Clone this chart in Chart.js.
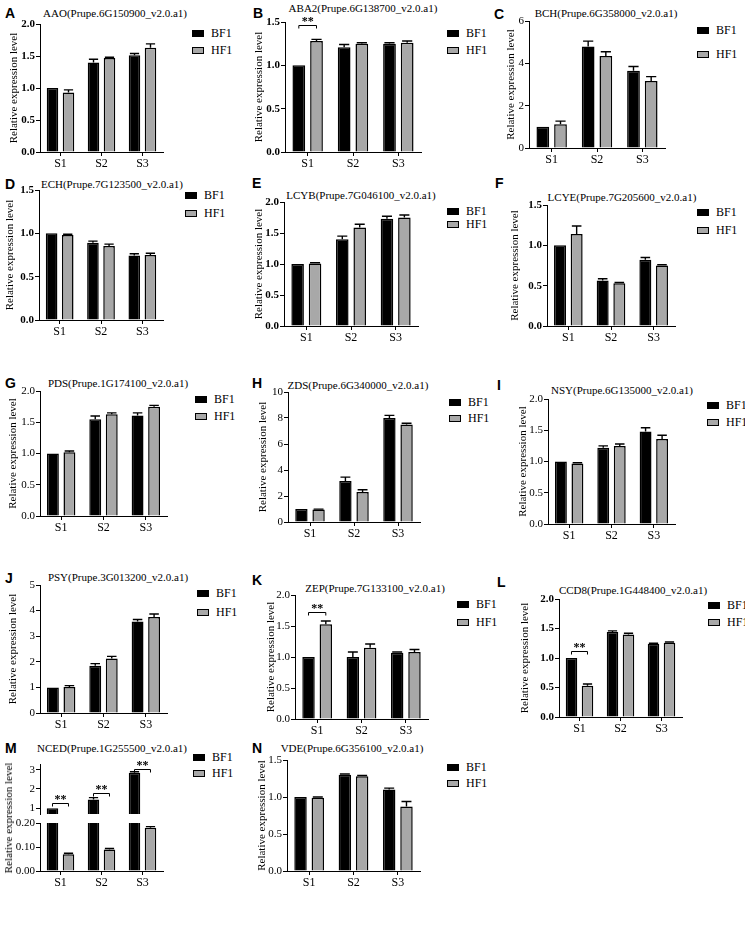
<!DOCTYPE html>
<html><head><meta charset="utf-8">
<script src="https://cdn.jsdelivr.net/npm/chart.js@4.4.1/dist/chart.umd.min.js"></script>
<style>
body{margin:0;background:#fff;width:745px;height:932px;position:relative;overflow:hidden;font-family:"Liberation Serif","Times New Roman",serif;color:#000;}
.abs{position:absolute;white-space:nowrap;}
.letter{font-family:"Liberation Sans",Arial,sans-serif;font-weight:bold;font-size:14px;line-height:14px;}
.ptitle{font-size:11px;line-height:12px;transform:translate(-50%,-50%);}
.leg{font-size:12px;line-height:12px;}
.box{position:absolute;left:0;top:3px;width:12px;height:7px;border:1px solid #000;box-sizing:border-box;}
</style></head><body>
<script>
// ---------- data ----------
const categories = ['S1', 'S2', 'S3'];
const seriesNames = ['BF1', 'HF1'];

const AAO_BF1 = [1.00, 1.40, 1.51], AAO_BF1_err = [0, 0.05, 0.03];
const AAO_HF1 = [0.93, 1.47, 1.63], AAO_HF1_err = [0.04, 0.01, 0.06];
const ABA2_BF1 = [1.00, 1.21, 1.25], ABA2_BF1_err = [0, 0.03, 0.01];
const ABA2_HF1 = [1.28, 1.25, 1.26], ABA2_HF1_err = [0.02, 0.01, 0.02];
const BCH_BF1 = [1.00, 4.80, 3.65], BCH_BF1_err = [0, 0.25, 0.2];
const BCH_HF1 = [1.12, 4.35, 3.17], BCH_HF1_err = [0.15, 0.2, 0.2];
const ECH_BF1 = [1.00, 0.89, 0.745], ECH_BF1_err = [0, 0.02, 0.02];
const ECH_HF1 = [0.98, 0.855, 0.75], ECH_HF1_err = [0.01, 0.02, 0.02];
const LCYB_BF1 = [1.00, 1.40, 1.73], LCYB_BF1_err = [0, 0.05, 0.04];
const LCYB_HF1 = [1.01, 1.59, 1.75], LCYB_HF1_err = [0.01, 0.05, 0.04];
const LCYE_BF1 = [1.00, 0.565, 0.82], LCYE_BF1_err = [0, 0.02, 0.03];
const LCYE_HF1 = [1.14, 0.53, 0.75], LCYE_HF1_err = [0.1, 0.01, 0.01];
const PDS_BF1 = [1.00, 1.55, 1.61], PDS_BF1_err = [0, 0.05, 0.04];
const PDS_HF1 = [1.02, 1.63, 1.75], PDS_HF1_err = [0.02, 0.02, 0.02];
const ZDS_BF1 = [1.00, 3.15, 8.00], ZDS_BF1_err = [0, 0.3, 0.2];
const ZDS_HF1 = [0.97, 2.30, 7.50], ZDS_HF1_err = [0.02, 0.18, 0.1];
const NSY_BF1 = [1.00, 1.22, 1.48], NSY_BF1_err = [0, 0.03, 0.06];
const NSY_HF1 = [0.97, 1.25, 1.36], NSY_HF1_err = [0.01, 0.03, 0.06];
const PSY_BF1 = [1.00, 1.85, 3.57], PSY_BF1_err = [0, 0.08, 0.08];
const PSY_HF1 = [1.02, 2.13, 3.75], PSY_HF1_err = [0.05, 0.08, 0.12];
const ZEP_BF1 = [1.00, 1.00, 1.07], ZEP_BF1_err = [0, 0.08, 0.01];
const ZEP_HF1 = [1.53, 1.15, 1.08], ZEP_HF1_err = [0.05, 0.06, 0.04];
const CCD8_BF1 = [1.00, 1.44, 1.24], CCD8_BF1_err = [0, 0.02, 0.01];
const CCD8_HF1 = [0.53, 1.40, 1.26], CCD8_HF1_err = [0.03, 0.02, 0.01];
const NCED_BF1 = [1.00, 1.45, 2.85], NCED_BF1_err = [0, 0.1, 0.05];
const NCED_HF1 = [0.07, 0.09, 0.18], NCED_HF1_err = [0.004, 0.004, 0.005];
const VDE_BF1 = [1.00, 1.30, 1.10], VDE_BF1_err = [0, 0.01, 0.02];
const VDE_HF1 = [0.99, 1.28, 0.87], VDE_HF1_err = [0.01, 0.01, 0.07];

// y-axis tick settings per panel
const yMaxes = {A:2, B:1.5, C:6, D:1.5, E:2, F:1.5, G:2, H:10, I:2, J:5, K:2, L:2, N:1.5};
const ySteps = {A:0.5, B:0.5, C:2, D:0.5, E:0.5, F:0.5, G:0.5, H:2, I:0.5, J:1, K:0.5, L:0.5, N:0.5};
const NCED_topTicks = [1, 2, 3];
const NCED_bottomTicks = [0, 0.05, 0.10, 0.15, 0.20];

// ---------- layout ----------
const panels = [
  {k:'A', title:'AAO(Prupe.6G150900_v2.0.a1)', bf:AAO_BF1, bfe:AAO_BF1_err, hf:AAO_HF1, hfe:AAO_HF1_err,
   ax:40, yTop:24, yBot:152, xEnd:163, tx:14, bold:true, L:[5,6], T:[115,13], G:[192,33,50], sig:[]},
  {k:'B', title:'ABA2(Prupe.6G138700_v2.0.a1)', bf:ABA2_BF1, bfe:ABA2_BF1_err, hf:ABA2_HF1, hfe:ABA2_HF1_err,
   ax:285, yTop:22, yBot:152, xEnd:421, tx:259, bold:true, L:[253,6], T:[363,8], G:[447,33,50], sig:[[0,1.46]]},
  {k:'C', title:'BCH(Prupe.6G358000_v2.0.a1)', bf:BCH_BF1, bfe:BCH_BF1_err, hf:BCH_HF1, hfe:BCH_HF1_err,
   ax:529, yTop:21, yBot:148, xEnd:665, tx:512, bold:false, L:[494,7], T:[606,13], G:[697,30,54], sig:[]},
  {k:'D', title:'ECH(Prupe.7G123500_v2.0.a1)', bf:ECH_BF1, bfe:ECH_BF1_err, hf:ECH_HF1, hfe:ECH_HF1_err,
   ax:39, yTop:190, yBot:320, xEnd:163, tx:10, bold:true, L:[5,177], T:[112,184], G:[185,195,213], sig:[]},
  {k:'E', title:'LCYB(Prupe.7G046100_v2.0.a1)', bf:LCYB_BF1, bfe:LCYB_BF1_err, hf:LCYB_HF1, hfe:LCYB_HF1_err,
   ax:284, yTop:202, yBot:326, xEnd:418, tx:259, bold:true, L:[252,176], T:[361,195], G:[447,211,224], sig:[]},
  {k:'F', title:'LCYE(Prupe.7G205600_v2.0.a1)', bf:LCYE_BF1, bfe:LCYE_BF1_err, hf:LCYE_HF1, hfe:LCYE_HF1_err,
   ax:547, yTop:205, yBot:326, xEnd:675, tx:515, bold:true, L:[495,176], T:[622,197], G:[697,212,230], sig:[]},
  {k:'G', title:'PDS(Prupe.1G174100_v2.0.a1)', bf:PDS_BF1, bfe:PDS_BF1_err, hf:PDS_HF1, hfe:PDS_HF1_err,
   ax:40, yTop:391, yBot:516, xEnd:167, tx:13, bold:false, L:[5,376], T:[118,383], G:[195,399,416], sig:[]},
  {k:'H', title:'ZDS(Prupe.6G340000_v2.0.a1)', bf:ZDS_BF1, bfe:ZDS_BF1_err, hf:ZDS_HF1, hfe:ZDS_HF1_err,
   ax:288, yTop:392, yBot:522, xEnd:420, tx:263, bold:false, L:[252,376], T:[358,385], G:[449,402,418], sig:[]},
  {k:'I', title:'NSY(Prupe.6G135000_v2.0.a1)', bf:NSY_BF1, bfe:NSY_BF1_err, hf:NSY_HF1, hfe:NSY_HF1_err,
   ax:548, yTop:399, yBot:524, xEnd:675, tx:523, bold:false, L:[497,378], T:[622,390], G:[707,405,422], sig:[]},
  {k:'J', title:'PSY(Prupe.3G013200_v2.0.a1)', bf:PSY_BF1, bfe:PSY_BF1_err, hf:PSY_HF1, hfe:PSY_HF1_err,
   ax:40, yTop:585, yBot:713, xEnd:167, tx:13, bold:false, L:[5,571], T:[118,577], G:[197,593,612], sig:[]},
  {k:'K', title:'ZEP(Prupe.7G133100_v2.0.a1)', bf:ZEP_BF1, bfe:ZEP_BF1_err, hf:ZEP_HF1, hfe:ZEP_HF1_err,
   ax:295, yTop:595, yBot:719, xEnd:428, tx:271, bold:false, L:[252,573], T:[375,588], G:[457,604,622], sig:[[0,1.73]]},
  {k:'L', title:'CCD8(Prupe.1G448400_v2.0.a1)', bf:CCD8_BF1, bfe:CCD8_BF1_err, hf:CCD8_HF1, hfe:CCD8_HF1_err,
   ax:559, yTop:599, yBot:717, xEnd:682, tx:525, bold:true, L:[497,575], T:[633,590], G:[708,605,622], sig:[[0,1.12]]},
  {k:'N', title:'VDE(Prupe.6G356100_v2.0.a1)', bf:VDE_BF1, bfe:VDE_BF1_err, hf:VDE_HF1, hfe:VDE_HF1_err,
   ax:287, yTop:760, yBot:871, xEnd:420, tx:262, bold:false, L:[252,741], T:[352,748], G:[447,767,783], sig:[]}
];

const SERIF = '"Liberation Serif", "Times New Roman", serif';
Chart.defaults.font.family = SERIF;
Chart.defaults.color = '#000';

const errPlugin = {
  id: 'errbars',
  afterDatasetsDraw(chart, args, opts) {
    const ctx = chart.ctx, y = chart.scales.y, a = chart.chartArea;
    ctx.save();
    ctx.beginPath();
    const extra = opts.tight ? 0 : 30;
    ctx.rect(a.left - 2, a.top - extra, a.right - a.left + 4, a.bottom - a.top + extra);
    ctx.clip();
    ctx.strokeStyle = '#000'; ctx.lineWidth = 1.4;
    chart.data.datasets.forEach((ds, i) => {
      const meta = chart.getDatasetMeta(i);
      meta.data.forEach((bar, j) => {
        const e = ds.errors[j];
        if (!e) return;
        const v = ds.data[j];
        const p0 = y.getPixelForValue(v), p1 = y.getPixelForValue(v + e);
        const half = bar.width * 0.4;
        ctx.beginPath();
        ctx.moveTo(bar.x, p0); ctx.lineTo(bar.x, p1);
        ctx.moveTo(bar.x - half, p1); ctx.lineTo(bar.x + half, p1);
        ctx.stroke();
      });
    });
    ctx.restore();
    ctx.save();
    ctx.strokeStyle = '#000'; ctx.lineWidth = 1; ctx.fillStyle = '#000';
    ctx.font = 'bold 12px ' + SERIF; ctx.textAlign = 'center'; ctx.textBaseline = 'bottom';
    (opts.sig || []).forEach(s => {
      const x0 = chart.getDatasetMeta(0).data[s[0]].x, x1 = chart.getDatasetMeta(1).data[s[0]].x;
      const py = Math.round(y.getPixelForValue(s[1])) + 0.5;
      ctx.beginPath();
      ctx.moveTo(x0, py + 3); ctx.lineTo(x0, py); ctx.lineTo(x1, py); ctx.lineTo(x1, py + 3);
      ctx.stroke();
      ctx.fillText('**', (x0 + x1) / 2, py + 2);
    });
    ctx.restore();
  }
};

function addText(cls, x, y, txt) {
  const d = document.createElement('div');
  d.className = 'abs ' + cls; d.style.left = x + 'px'; d.style.top = y + 'px'; d.textContent = txt;
  document.body.appendChild(d); return d;
}
function addLegend(x, y1, y2) {
  [[y1, '#000', seriesNames[0]], [y2, '#a8a8a8', seriesNames[1]]].forEach(([yy, col, name]) => {
    const d = document.createElement('div');
    d.className = 'abs leg'; d.style.left = x + 'px'; d.style.top = (yy - 6) + 'px';
    d.style.paddingLeft = '19px';
    d.innerHTML = '<span class="box" style="background:' + col + '"></span>' + name;
    document.body.appendChild(d);
  });
}

function makeChart(o) {
  const YW = Math.max(o.ax - o.tx + 6, 24);
  const PT = 8, PR = 6, PB = o.showX ? 0 : 8, XH = o.showX ? 22 : 0;
  const left = o.ax - YW, top = o.yTop - PT;
  const w = o.xEnd - left + PR, h = o.yBot - top + XH + PB;
  const cv = document.createElement('canvas');
  cv.width = w; cv.height = h;
  cv.style.position = 'absolute'; cv.style.left = left + 'px'; cv.style.top = top + 'px';
  cv.style.width = w + 'px'; cv.style.height = h + 'px';
  document.body.appendChild(cv);
  const tickFont = {family: SERIF, size: 11, weight: o.bold ? 'bold' : 'normal'};
  const clip = o.tight ? 0 : undefined;
  const ds = [
    {label: seriesNames[0], data: o.bf, errors: o.bfe, backgroundColor: '#000', borderColor: '#000', borderWidth: 1.5, clip: clip},
    {label: seriesNames[1], data: o.hf, errors: o.hfe, backgroundColor: '#a8a8a8', borderColor: '#000', borderWidth: 1.5, clip: clip}
  ];
  new Chart(cv, {
    type: 'bar',
    data: {labels: categories, datasets: ds},
    plugins: [errPlugin],
    options: {
      responsive: false, animation: false, events: [],
      datasets: {bar: {barPercentage: 0.72, categoryPercentage: 0.78}},
      layout: {padding: {top: PT, right: PR, bottom: PB, left: 0}},
      plugins: {legend: {display: false}, title: {display: false}, tooltip: {enabled: false},
                errbars: {sig: o.sig || [], tight: !!o.tight}},
      scales: {
        x: {
          display: o.showX, offset: true,
          grid: {display: true, drawOnChartArea: false, offset: false, tickLength: 4, color: '#000', lineWidth: 1},
          border: {display: true, color: '#000', width: 1},
          ticks: {font: {family: SERIF, size: 12}, color: '#000', padding: 1},
          afterFit(s) { s.height = XH; }
        },
        y: {
          min: o.min, max: o.max,
          grid: {display: true, drawOnChartArea: false, tickLength: 4, color: '#000', lineWidth: 1},
          border: {display: true, color: '#000', width: 1},
          ticks: {stepSize: o.step, font: tickFont, color: '#000', padding: 1,
                  callback: v => Number(v).toFixed(o.dec)},
          afterBuildTicks(s) { if (o.ticksList) s.ticks = o.ticksList.map(v => ({value: v})); },
          title: {display: !o.noTitle, text: 'Relative expression level', font: {family: SERIF, size: 11}, color: '#000', padding: 0},
          afterFit(s) { s.width = YW; }
        }
      }
    }
  });
}

function drawAll() {
  panels.forEach(p => {
    addText('letter', p.L[0], p.L[1], p.k);
    addText('ptitle', p.T[0], p.T[1], p.title);
    addLegend(p.G[0], p.G[1], p.G[2]);
    const step = ySteps[p.k];
    makeChart({ax: p.ax, yTop: p.yTop, yBot: p.yBot, xEnd: p.xEnd, tx: p.tx, min: 0, max: yMaxes[p.k], step: step,
               dec: step < 1 ? 1 : 0, bold: p.bold, showX: true,
               bf: p.bf, bfe: p.bfe, hf: p.hf, hfe: p.hfe, sig: p.sig});
  });

  // Panel M (broken y axis: two stacked segments)
  addText('letter', 5, 741, 'M');
  addText('ptitle', 112, 748, 'NCED(Prupe.1G255500_v2.0.a1)');
  addLegend(193, 757, 773);
  makeChart({ax: 40, yTop: 764, yBot: 814, xEnd: 163, tx: 13, min: 0.7, max: 3.3, step: 1, ticksList: NCED_topTicks,
             dec: 0, bold: false, showX: false, tight: true, noTitle: true,
             bf: NCED_BF1, bfe: NCED_BF1_err, hf: NCED_HF1, hfe: NCED_HF1_err, sig: [[0, 1.25], [1, 1.8], [2, 3.05]]});
  makeChart({ax: 40, yTop: 823, yBot: 871, xEnd: 163, tx: 13, min: 0, max: 0.2, step: 0.05, ticksList: NCED_bottomTicks,
             dec: 2, bold: false, showX: true, tight: true, noTitle: true,
             bf: NCED_BF1, bfe: NCED_BF1_err, hf: NCED_HF1, hfe: NCED_HF1_err, sig: []});
  const mt = addText('', 0, 0, 'Relative expression level');
  mt.style.fontSize = '11px'; mt.style.lineHeight = '11px';
  mt.style.left = '3px'; mt.style.top = '818px';
  mt.style.transformOrigin = '0 0';
  mt.style.transform = 'rotate(-90deg) translate(-50%, 0)';
}

if (document.fonts && document.fonts.load) {
  Promise.all([
    document.fonts.load('11px "Liberation Serif"'),
    document.fonts.load('bold 11px "Liberation Serif"')
  ]).then(drawAll, drawAll);
} else { drawAll(); }
</script>
</body></html>
